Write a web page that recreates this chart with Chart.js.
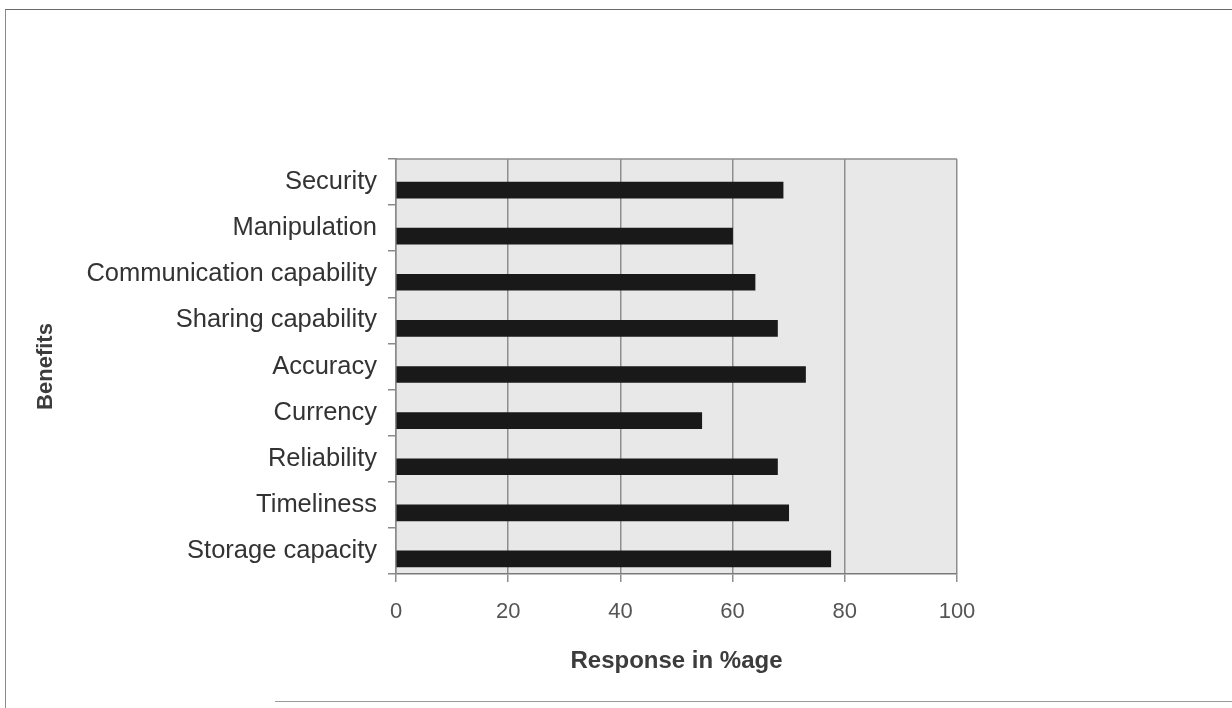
<!DOCTYPE html>
<html>
<head>
<meta charset="utf-8">
<title>Benefits – Response in %age</title>
<script src="https://cdn.jsdelivr.net/npm/chart.js@4/dist/chart.umd.min.js"></script>
<style>
  html, body { margin: 0; padding: 0; background: #ffffff; }
  #wrap { position: relative; width: 1232px; height: 708px; overflow: hidden; }
  #frame {
    position: absolute; left: 5px; top: 9px; width: 1240px; height: 700px;
    border-left: 1.5px solid #8a8a8a; border-top: 1.5px solid #6a6a6a;
    box-sizing: border-box;
  }
  #rule {
    position: absolute; left: 275px; top: 701px; width: 960px; height: 0;
    border-top: 1px solid #9a9a9a;
  }
  #chart { position: absolute; left: 0; top: 0; }
</style>
</head>
<body>
<div id="wrap">
  <div id="frame"></div>
  <div id="rule"></div>
  <canvas id="chart" width="1232" height="708"></canvas>
</div>
<script>
// Benefit categories, top to bottom
const categories = [
  'Security',
  'Manipulation',
  'Communication capability',
  'Sharing capability',
  'Accuracy',
  'Currency',
  'Reliability',
  'Timeliness',
  'Storage capacity'
];

// Share of respondents naming each benefit (%)
const responses = [69, 60, 64, 68, 73, 54.5, 68, 70, 77.5];

// Value axis ticks
const xTicks = [0, 20, 40, 60, 80, 100];

// Grey plot area with a thin frame on top
const plotFrame = {
  id: 'plotFrame',
  beforeDraw(chart) {
    const { ctx, chartArea: a } = chart;
    ctx.save();
    ctx.fillStyle = '#e8e8e8';
    ctx.fillRect(a.left, a.top, a.right - a.left, a.bottom - a.top);
    ctx.restore();
  },
  afterDraw(chart) {
    const { ctx, chartArea: a } = chart;
    ctx.save();
    ctx.strokeStyle = '#8c8c8c';
    ctx.lineWidth = 1.5;
    ctx.beginPath();
    ctx.moveTo(a.left, a.top);
    ctx.lineTo(a.right, a.top);
    ctx.stroke();
    ctx.restore();
  }
};

const ctx = document.getElementById('chart').getContext('2d');
new Chart(ctx, {
  type: 'bar',
  data: {
    labels: categories,
    datasets: [
      {
        // empty leading group slot: nudges the bars below each category's centre
        label: '',
        data: [],
        backgroundColor: 'rgba(0,0,0,0)',
        borderWidth: 0
      },
      {
        label: 'Response in %age',
        data: responses,
        backgroundColor: '#191919',
        borderWidth: 0,
        barThickness: 16
      }
    ]
  },
  options: {
    indexAxis: 'y',
    responsive: false,
    animation: false,
    categoryPercentage: 0.54,
    layout: { padding: { left: 29, top: 159, right: 275, bottom: 28 } },
    plugins: {
      legend: { display: false },
      tooltip: { enabled: false }
    },
    scales: {
      x: {
        min: 0,
        max: 100,
        afterBuildTicks(scale) {
          scale.ticks = xTicks.map(v => ({ value: v }));
        },
        afterFit(scale) { scale.height = 106; },
        grid: {
          color: '#8e8e8e',
          lineWidth: 1.5,
          tickLength: 8,
          tickColor: '#8e8e8e'
        },
        border: { color: '#7a7a7a', width: 1.5 },
        ticks: {
          color: '#555555',
          padding: 17,
          font: { family: '"Liberation Sans", Arial, sans-serif', size: 22 }
        },
        title: {
          display: true,
          text: 'Response in %age',
          color: '#3c3c3c',
          padding: { top: 4, bottom: 4 },
          font: { family: '"Liberation Sans", Arial, sans-serif', size: 24, weight: 'bold' }
        }
      },
      y: {
        afterFit(scale) { scale.width = 367; },
        grid: {
          drawOnChartArea: false,
          tickLength: 8,
          tickColor: '#8a8a8a',
          lineWidth: 1.5
        },
        border: { color: '#8a8a8a', width: 1.5 },
        ticks: {
          color: '#333333',
          padding: 11,
          font: { family: '"Liberation Sans", Arial, sans-serif', size: 25.5 }
        },
        title: {
          display: true,
          text: 'Benefits',
          color: '#3c3c3c',
          padding: { top: 4, bottom: 4 },
          font: { family: '"Liberation Sans", Arial, sans-serif', size: 22, weight: 'bold' }
        }
      }
    }
  },
  plugins: [plotFrame]
});
</script>
</body>
</html>
